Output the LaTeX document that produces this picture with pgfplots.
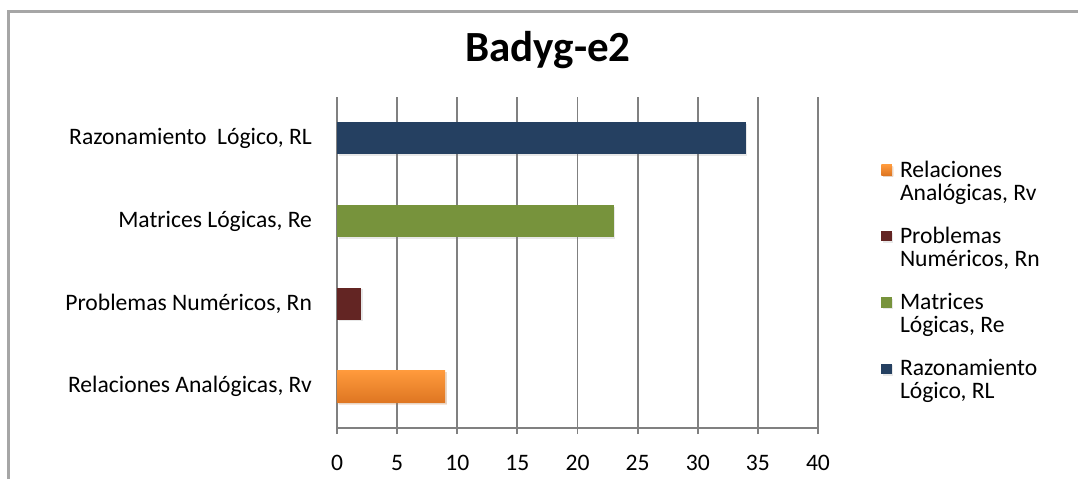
\documentclass[border=0pt]{standalone}
\usepackage{pgfplots}
\pgfplotsset{compat=1.18}
\usetikzlibrary{shadows}
\usepackage{fontspec}
\setmainfont{Carlito}

\definecolor{gridgray}{HTML}{808080}
\definecolor{framegray}{HTML}{A6A6A6}
\definecolor{rvtop}{HTML}{FF9A3C}
\definecolor{rvbot}{HTML}{DE7622}
\definecolor{rnred}{HTML}{632523}
\definecolor{regreen}{HTML}{77933C}
\definecolor{rlnavy}{HTML}{254061}

% square legend marker
\pgfplotsset{sqlegend/.style={legend image code/.code={%
  \fill[##1] (0pt,3.4pt) rectangle (5.2pt,8.6pt); \path (0pt,-8.6pt) (7.3pt,8.6pt);}}}

\begin{document}
\begin{tikzpicture}
\useasboundingbox (0pt,0pt) rectangle (539pt,-239.5pt);
% chart frame (open on the right and at the bottom)
\draw[framegray, line width=1.3pt] (4.1pt,-239.5pt) -- (4.1pt,-5.8pt) -- (539pt,-5.8pt);
% title
\node[font=\fontsize{21.5}{24}\selectfont\bfseries] at (274pt,-25pt) {Badyg-e2};

\begin{axis}[
  at={(168.5pt,-214pt)}, anchor=south west,
  scale only axis, width=240.5pt, height=165.5pt,
  xmin=0, xmax=40, ymin=-0.5, ymax=3.5,
  axis x line=bottom, axis y line=left,
  axis line style={gridgray, line width=0.9pt, -},
  xtick={0,5,...,40},
  xmajorgrids, grid style={gridgray, line width=0.9pt},
  tick style={gridgray, line width=0.9pt},
  tick align=outside, major tick length=3pt,
  xticklabel style={yshift=-7pt},
  ytick={0,1,2,3},
  yticklabels={{Relaciones Analógicas,\ Rv},{Problemas Numéricos, Rn},{Matrices Lógicas,\ Re\ },{Razonamiento\ \ Lógico, RL}},
  ytick style={draw=none},
  yticklabel style={xshift=-6pt},
  extra y ticks={-0.5,0.5,1.5,2.5,3.5},
  extra y tick labels={},
  extra y tick style={tick style={gridgray, line width=0.9pt, draw=gridgray}, major tick length=3pt, grid=none},
  /pgf/number format/assume math mode=true,
  ticklabel style={font=\fontsize{11.8}{14}\selectfont},
  xbar, bar width=16pt, bar shift=0pt,
  every axis plot/.append style={drop shadow={opacity=0.18, shadow xshift=0.8pt, shadow yshift=-0.8pt}},
  legend style={at={(1.131,0.821)}, anchor=north west, draw=none, fill=none,
    font=\fontsize{11.8}{11.5}\selectfont, inner sep=0pt, row sep=8pt,
    cells={align=left}},
  legend cell align=left,
]
\addplot[draw=none, top color=rvtop, bottom color=rvbot, sqlegend] coordinates {(9,0)};
\addlegendentry{Relaciones\\Analógicas, Rv}
\addplot[draw=none, fill=rnred, sqlegend] coordinates {(2,1)};
\addlegendentry{Problemas\\Numéricos, Rn}
\addplot[draw=none, fill=regreen, sqlegend] coordinates {(23,2)};
\addlegendentry{Matrices\\Lógicas, Re}
\addplot[draw=none, fill=rlnavy, sqlegend] coordinates {(34,3)};
\addlegendentry{Razonamiento\\Lógico, RL}
\end{axis}
\end{tikzpicture}
\end{document}
